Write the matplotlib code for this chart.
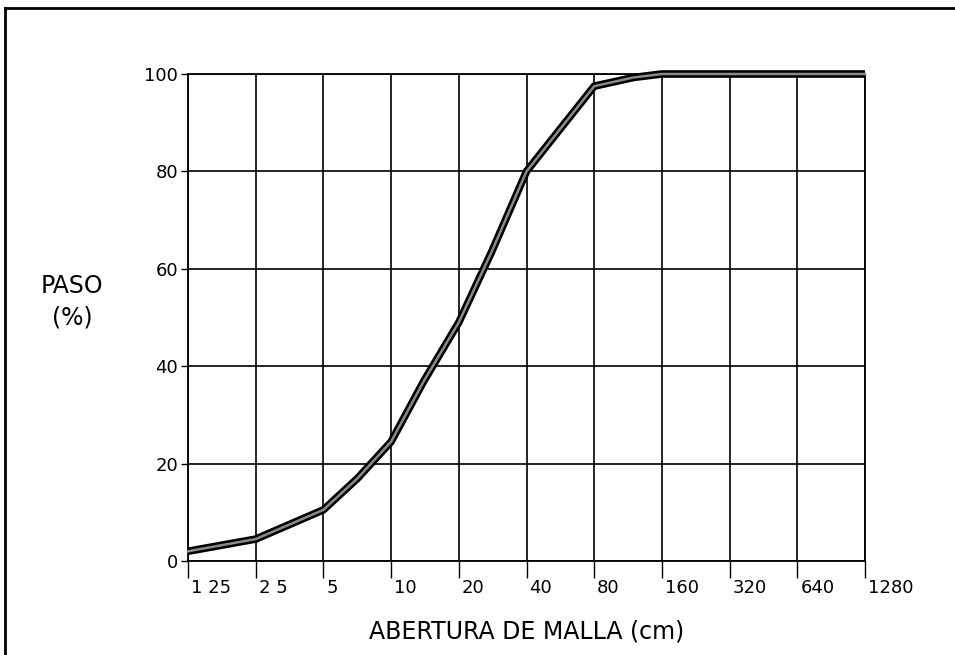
import matplotlib.pyplot as plt
import matplotlib.transforms as mtransforms
from matplotlib.lines import Line2D

# Grading curve
abertura = [1.25, 2.5, 5, 7.1, 10, 14, 20, 28, 40, 56, 80, 120, 160, 320, 640, 1280]
paso = [2, 4.5, 10.5, 17, 24.5, 37, 49, 63.5, 80, 88.5, 97.5, 99.3, 100, 100, 100, 100]

xticks = [1.25, 2.5, 5, 10, 20, 40, 80, 160, 320, 640, 1280]
xticklabels = ['1 25', '2 5', '5', '10', '20', '40', '80', '160', '320', '640', '1280']
yticks = [0, 20, 40, 60, 80, 100]

fig = plt.figure(figsize=(9.55, 6.55), dpi=100)
ax = fig.add_axes([188 / 955, 1 - 561 / 655, 677 / 955, 487 / 655])

# thick outlined curve
ax.plot(abertura, paso, color='black', linewidth=5.5, solid_capstyle='butt', zorder=3, clip_on=False)
ax.plot(abertura, paso, color='#8a8a8a', linewidth=1.8, zorder=4, clip_on=False)

ax.set_xscale('log', base=2)
ax.set_xlim(1.25, 1280)
ax.set_ylim(0, 100)
ax.set_xticks(xticks)
ax.set_xticklabels(xticklabels, fontsize=13, ha='left')
ax.minorticks_off()
ax.set_yticks(yticks)
ax.set_yticklabels([str(v) for v in yticks], fontsize=13)

ax.tick_params(axis='x', length=12, width=1, pad=1, direction='out')
ax.tick_params(axis='y', length=5, width=1, pad=2, direction='out')
offset = mtransforms.ScaledTranslation(3 / 100, 0, fig.dpi_scale_trans)
for lbl in ax.get_xticklabels():
    lbl.set_transform(lbl.get_transform() + offset)

ax.grid(True, color='black', linewidth=1.2)
for sp in ax.spines.values():
    sp.set_linewidth(1.3)
    sp.set_color('black')

ax.set_xlabel("ABERTURA DE MALLA (cm)", fontsize=17, labelpad=16)
fig.text(72 / 955, 1 - 302 / 655, "PASO\n(%)", fontsize=17, ha='center', va='center',
         linespacing=1.4)

# partial frame around the figure
fig.add_artist(Line2D([5 / 955, 5 / 955], [0, 1 - 8 / 655], color='black', linewidth=2))
fig.add_artist(Line2D([5 / 955, 1], [1 - 8 / 655, 1 - 8 / 655], color='black', linewidth=2))

fig.savefig("out.png", dpi=100)
